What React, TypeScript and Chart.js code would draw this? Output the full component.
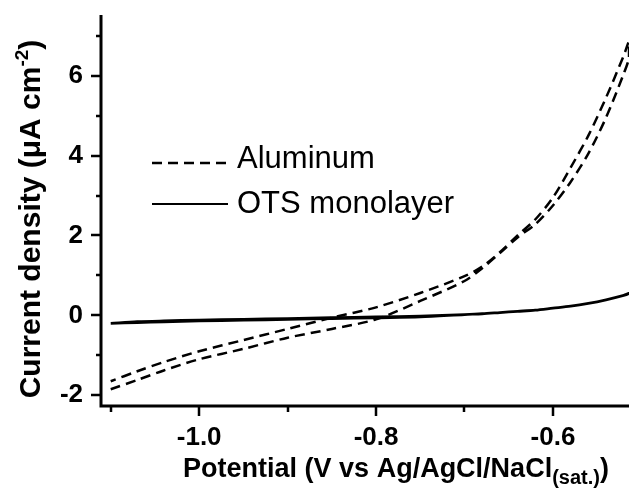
import React, { useEffect, useRef } from 'react';
import { Chart, registerables } from 'chart.js';

Chart.register(...registerables);

// ---- data ----
const scanPotential = [-1.1, -1.07, -1.04, -1.0, -0.95, -0.9, -0.85, -0.8, -0.75, -0.7, -0.68, -0.66, -0.64, -0.62, -0.6, -0.58, -0.56, -0.54, -0.52, -0.514];

const aluminumForward = [-1.85, -1.62, -1.38, -1.1, -0.84, -0.56, -0.34, -0.1, 0.36, 0.86, 1.18, 1.56, 1.95, 2.28, 2.75, 3.34, 4.05, 4.95, 6.05, 6.45];
const aluminumReverse = [-1.65, -1.4, -1.17, -0.9, -0.62, -0.34, -0.06, 0.2, 0.56, 0.98, 1.22, 1.58, 2.0, 2.4, 2.95, 3.7, 4.5, 5.45, 6.5, 6.85];

const otsForward = [-0.21, -0.19, -0.17, -0.15, -0.13, -0.11, -0.09, -0.07, -0.05, 0.01, 0.03, 0.06, 0.09, 0.12, 0.17, 0.22, 0.29, 0.38, 0.49, 0.54];
const otsReverse = [-0.19, -0.15, -0.13, -0.11, -0.09, -0.07, -0.05, -0.03, -0.01, 0.03, 0.05, 0.08, 0.11, 0.14, 0.19, 0.24, 0.31, 0.4, 0.51, 0.56];

const seriesLabels = ['Aluminum', 'OTS monolayer'];

const xMajorTicks = [-1.0, -0.8, -0.6];
const xMinorTicks = [-1.1, -0.9, -0.7];
const yMajorTicks = [-2, 0, 2, 4, 6];
const yMinorTicks = [-1, 1, 3, 5, 7];

const xRange = [-1.111, -0.514];
const yRange = [-2.27, 7.52];

const xTitleMain = 'Potential (V vs Ag/AgCl/NaCl';
const xTitleSub = '(sat.)';
const xTitleEnd = ')';
const yTitleMain = 'Current density (\u03BCA cm';
const yTitleSup = '-2';
const yTitleEnd = ')';

const FONT = '"Liberation Sans", Arial, Helvetica, sans-serif';

function loop(pot: number[], fwd: number[], rev: number[]) {
  const pts = pot.map((x, i) => ({ x, y: fwd[i] }));
  for (let i = pot.length - 1; i >= 0; i--) pts.push({ x: pot[i], y: rev[i] });
  return pts;
}

const isIn = (arr: number[], v: number) => arr.some((m) => Math.abs(m - v) < 1e-6);

const decorPlugin = {
  id: 'decor',
  afterDraw(chart: any) {
    const { ctx, chartArea: a, scales } = chart;
    const xs = scales.x;
    const ys = scales.y;
    ctx.save();
    ctx.strokeStyle = '#000';
    ctx.fillStyle = '#000';
    ctx.setLineDash([]);
    // axis lines
    ctx.lineWidth = 3;
    ctx.beginPath();
    ctx.moveTo(a.left, a.top);
    ctx.lineTo(a.left, a.bottom + 1.5);
    ctx.moveTo(a.left - 1.5, a.bottom);
    ctx.lineTo(a.right, a.bottom);
    ctx.stroke();
    // ticks
    ctx.lineWidth = 2.5;
    ctx.beginPath();
    for (const v of xMajorTicks) {
      const px = Math.round(xs.getPixelForValue(v));
      ctx.moveTo(px, a.bottom);
      ctx.lineTo(px, a.bottom + 10);
    }
    for (const v of xMinorTicks) {
      const px = Math.round(xs.getPixelForValue(v));
      ctx.moveTo(px, a.bottom);
      ctx.lineTo(px, a.bottom + 6);
    }
    for (const v of yMajorTicks) {
      const py = Math.round(ys.getPixelForValue(v));
      ctx.moveTo(a.left, py);
      ctx.lineTo(a.left - 10, py);
    }
    for (const v of yMinorTicks) {
      const py = Math.round(ys.getPixelForValue(v));
      ctx.moveTo(a.left, py);
      ctx.lineTo(a.left - 5, py);
    }
    ctx.stroke();

    // x title with subscript
    const mainFont = `bold 27px ${FONT}`;
    const subFont = `bold 20px ${FONT}`;
    ctx.font = mainFont;
    const w1 = ctx.measureText(xTitleMain).width;
    const w3 = ctx.measureText(xTitleEnd).width;
    ctx.font = subFont;
    const w2 = ctx.measureText(xTitleSub).width;
    const total = w1 + w2 + w3;
    let tx = a.left + 295 - total / 2;
    const ty = a.bottom + 71;
    ctx.textBaseline = 'alphabetic';
    ctx.textAlign = 'left';
    ctx.font = mainFont;
    ctx.fillText(xTitleMain, tx, ty);
    tx += w1;
    ctx.font = subFont;
    ctx.fillText(xTitleSub, tx, ty + 7);
    tx += w2;
    ctx.font = mainFont;
    ctx.fillText(xTitleEnd, tx, ty);

    // y title with superscript (rotated)
    const yMain = `bold 30px ${FONT}`;
    const ySup = `bold 19px ${FONT}`;
    ctx.font = yMain;
    const v1 = ctx.measureText(yTitleMain).width;
    const v3 = ctx.measureText(yTitleEnd).width;
    ctx.font = ySup;
    const v2 = ctx.measureText(yTitleSup).width;
    const vt = v1 + v2 + v3;
    ctx.translate(40, a.top + 204);
    ctx.rotate(-Math.PI / 2);
    let sx = -vt / 2;
    ctx.font = yMain;
    ctx.fillText(yTitleMain, sx, 0);
    sx += v1;
    ctx.font = ySup;
    ctx.fillText(yTitleSup, sx, -12);
    sx += v2;
    ctx.font = yMain;
    ctx.fillText(yTitleEnd, sx, 0);
    ctx.setTransform(1, 0, 0, 1, 0, 0);

    // legend
    const ds = chart.data.datasets;
    const legendY = [a.top + 148, a.top + 189];
    const textY = [a.top + 153, a.top + 198];
    ctx.font = `31px ${FONT}`;
    ds.forEach((d: any, i: number) => {
      ctx.lineWidth = d.borderWidth;
      ctx.setLineDash(d.borderDash || []);
      ctx.beginPath();
      ctx.moveTo(a.left + 51, legendY[i]);
      ctx.lineTo(a.left + 127, legendY[i]);
      ctx.stroke();
      ctx.setLineDash([]);
      ctx.fillText(d.label, a.left + 136, textY[i]);
    });
    ctx.restore();
  },
};

export default function App() {
  const ref = useRef<HTMLCanvasElement | null>(null);
  useEffect(() => {
    if (!ref.current) return;
    const zeroPad = (s: any) => {
      s.paddingTop = 0;
      s.paddingBottom = 0;
      s.paddingLeft = 0;
      s.paddingRight = 0;
    };
    const chart = new Chart(ref.current, {
      type: 'scatter',
      data: {
        datasets: [
          {
            label: seriesLabels[0],
            data: loop(scanPotential, aluminumForward, aluminumReverse),
            showLine: true,
            borderColor: '#000',
            backgroundColor: '#000',
            borderWidth: 2.5,
            borderDash: [10, 6],
            pointRadius: 0,
            tension: 0.3,
          },
          {
            label: seriesLabels[1],
            data: loop(scanPotential, otsForward, otsReverse),
            showLine: true,
            borderColor: '#000',
            backgroundColor: '#000',
            borderWidth: 2,
            pointRadius: 0,
            tension: 0.3,
          },
        ],
      },
      options: {
        animation: false,
        responsive: false,
        devicePixelRatio: 1,
        layout: { padding: { top: 15, right: 0, left: 0, bottom: 0 } },
        plugins: { legend: { display: false }, tooltip: { enabled: false } },
        scales: {
          x: {
            type: 'linear',
            min: xRange[0],
            max: xRange[1],
            afterBuildTicks: (axis: any) => {
              axis.ticks = [...xMinorTicks, ...xMajorTicks].sort((p, q) => p - q).map((value) => ({ value }));
            },
            afterFit: (s: any) => {
              s.height = 86;
              zeroPad(s);
            },
            grid: { display: false, drawTicks: false },
            border: { display: false },
            ticks: {
              padding: 16,
              autoSkip: false,
              maxRotation: 0,
              color: '#000',
              font: { family: FONT, size: 26, weight: 'bold' },
              callback: (v: any) => (isIn(xMajorTicks, Number(v)) ? Number(v).toFixed(1) : ''),
            },
          },
          y: {
            type: 'linear',
            min: yRange[0],
            max: yRange[1],
            afterBuildTicks: (axis: any) => {
              axis.ticks = [...yMinorTicks, ...yMajorTicks].sort((p, q) => p - q).map((value) => ({ value }));
            },
            afterFit: (s: any) => {
              s.width = 101;
              zeroPad(s);
            },
            grid: { display: false, drawTicks: false },
            border: { display: false },
            ticks: {
              padding: 18,
              autoSkip: false,
              color: '#000',
              font: { family: FONT, size: 26, weight: 'bold' },
              callback: (v: any) => (isIn(yMajorTicks, Number(v)) ? String(v) : ''),
            },
          },
        },
      },
      plugins: [decorPlugin],
    });
    return () => chart.destroy();
  }, []);
  return (
    <div style={{ position: 'absolute', left: 0, top: 0, width: 629, height: 492, background: '#fff' }}>
      <canvas ref={ref} width={629} height={492} style={{ display: 'block' }} />
    </div>
  );
}
